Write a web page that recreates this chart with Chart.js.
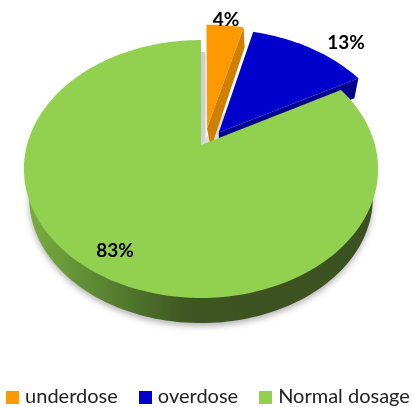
<!DOCTYPE html>
<html>
<head>
<meta charset="utf-8">
<title>Dosage</title>
<script src="https://cdn.jsdelivr.net/npm/chart.js@4"></script>
<style>
    html, body { margin: 0; padding: 0; background: #fff; }
    #wrap { position: relative; width: 412px; height: 407px; overflow: hidden; }
    #legend {
        position: absolute; left: 4px; right: 0; top: 382px;
        display: flex; justify-content: center; gap: 21px;
        font: 20px Lato, sans-serif; color: #222; line-height: 26px; white-space: nowrap;
    }
    #legend span { display: inline-block; width: 13px; height: 13px; margin-right: 6px; vertical-align: -1px; }
</style>
</head>
<body>
<div id="wrap">
    <canvas id="dosePie"></canvas>
    <div id="legend"></div>
</div>
<script>
const categories = ["underdose", "overdose", "Normal dosage"];
const percentValues = [4, 13, 83];
const sliceColors = ["#ff9900", "#0000cc", "#92d050"];
const wallColors = ["#d08000", "#00008f", "#3f5a24"];
const sliceOffsets = [24, 26, 0];

// tilted disc: centre, half axes and perspective strength
const disc = { x: 201, y: 145, bx: 174, ay: 124.5, k: 0.186, depth: 20, offsetUnit: 172 };

// pulled out slices sit closer to the eye, so they read a bit larger
const sliceGrow = [1.04, 1.03, 1];
const sliceShiftX = [3, 2, 0];
const sliceShiftY = [0, 2, 0];

const project = (u, v, drop = 0) => {
    const w = 1 - disc.k * v;
    return { x: disc.x + disc.bx * u / w, y: disc.y + disc.ay * v / w + drop };
};

const sliceOrigin = (arc) => {
    const mid = (arc.startAngle + arc.endAngle) / 2;
    const off = (arc.options.offset || 0) / disc.offsetUnit;
    return { u: Math.cos(mid) * off, v: Math.sin(mid) * off };
};

// Chart.js angles start at -PI/2 (top) and run clockwise
const traceSlice = (ctx, arc, i, map = (p) => p) => {
    const o = sliceOrigin(arc);
    const r = sliceGrow[i];
    const steps = Math.max(6, Math.ceil((arc.endAngle - arc.startAngle) * 40));
    const put = (p, first) => {
        const q = map(p);
        if (first) ctx.moveTo(q.x + sliceShiftX[i], q.y + sliceShiftY[i]);
        else ctx.lineTo(q.x + sliceShiftX[i], q.y + sliceShiftY[i]);
    };
    ctx.beginPath();
    put(project(o.u, o.v), true);
    for (let s = 0; s <= steps; s++) {
        const a = arc.startAngle + (arc.endAngle - arc.startAngle) * s / steps;
        put(project(o.u + r * Math.cos(a), o.v + r * Math.sin(a)), false);
    }
    ctx.closePath();
};

// underside of the disc sits lower and reads a little smaller
const lowerFace = (p) => ({
    x: disc.x + (p.x - disc.x) * 0.97,
    y: 198 + (p.y - 169) * 0.97
});

const tiltedPie = {
    id: "tiltedPie",
    beforeDatasetDraw(chart) {
        const ctx = chart.ctx;
        const arcs = chart.getDatasetMeta(0).data;
        ctx.save();

        // rim of the big slice with a soft shadow under it
        const rim = ctx.createLinearGradient(24, 0, 378, 0);
        rim.addColorStop(0, "#7ab040");
        rim.addColorStop(0.22, "#5a8532");
        rim.addColorStop(0.46, "#3e5622");
        rim.addColorStop(1, "#3a5020");
        ctx.save();
        ctx.shadowColor = "rgba(0,0,0,0.3)";
        ctx.shadowBlur = 6;
        ctx.shadowOffsetY = 3;
        ctx.fillStyle = rim;
        traceSlice(ctx, arcs[2], 2, lowerFace);
        ctx.fill();
        ctx.restore();

        // grey inner faces left where the slices were pulled out
        const centre = project(0, 0);
        ctx.fillStyle = "#cfcfcf";
        ctx.fillRect(centre.x - 1, 52, 5.5, centre.y - 52);
        ctx.fillStyle = "#dcdcdc";
        ctx.beginPath();
        ctx.moveTo(centre.x, centre.y);
        ctx.lineTo(219, 143);
        ctx.lineTo(231, 104);
        ctx.closePath();
        ctx.fill();

        // cut walls of the pulled out slices, lower edge skewed per slice
        const wallSkewFar = [1, -4];
        const wallSkewNear = [4, 0];
        [1, 0].forEach((i) => {
            const arc = arcs[i];
            const o = sliceOrigin(arc);
            const r = sliceGrow[i];
            const a = project(o.u, o.v);
            const b = project(o.u + r * Math.cos(arc.endAngle), o.v + r * Math.sin(arc.endAngle));
            const sx = sliceShiftX[i];
            const sy = sliceShiftY[i];
            ctx.fillStyle = wallColors[i];
            ctx.beginPath();
            ctx.moveTo(a.x + sx, a.y + sy);
            ctx.lineTo(b.x + sx, b.y + sy);
            ctx.lineTo(b.x + sx + wallSkewFar[i], b.y + sy + disc.depth);
            ctx.lineTo(a.x + sx + wallSkewNear[i], a.y + sy + disc.depth);
            ctx.closePath();
            ctx.fill();
        });

        // top faces
        [1, 0, 2].forEach((i) => {
            ctx.fillStyle = sliceColors[i];
            traceSlice(ctx, arcs[i], i);
            ctx.fill();
        });

        ctx.restore();
        return false;
    },
    afterDatasetsDraw(chart) {
        const ctx = chart.ctx;
        const spots = [[226, 20], [346, 43], [115, 251]];
        ctx.save();
        ctx.font = "bold 19px Lato";
        ctx.fillStyle = "#000";
        ctx.textAlign = "center";
        ctx.textBaseline = "middle";
        percentValues.forEach((v, i) => ctx.fillText(v + "%", spots[i][0], spots[i][1]));
        ctx.restore();
    }
};

new Chart(document.getElementById("dosePie"), {
    type: "pie",
    data: {
        labels: categories,
        datasets: [{
            data: percentValues,
            backgroundColor: sliceColors,
            borderWidth: 0,
            offset: sliceOffsets
        }]
    },
    options: {
        responsive: true,
        maintainAspectRatio: false,
        animation: false,
        plugins: {
            tooltip: { enabled: false },
            legend: { display: false }
        }
    },
    plugins: [tiltedPie]
});

// legend row under the canvas
const legendBox = document.getElementById("legend");
categories.forEach((name, i) => {
    const item = document.createElement("div");
    const swatch = document.createElement("span");
    swatch.style.background = sliceColors[i];
    item.appendChild(swatch);
    item.appendChild(document.createTextNode(name));
    legendBox.appendChild(item);
});
</script>
</body>
</html>
